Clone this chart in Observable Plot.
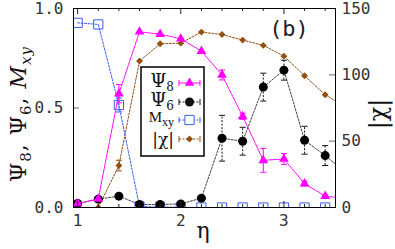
<!DOCTYPE html>
<html><head><meta charset="utf-8">
<script src="https://cdn.jsdelivr.net/npm/d3@7"></script>
<script src="https://cdn.jsdelivr.net/npm/@observablehq/plot@0.6"></script>
<style>body{margin:0;background:#fff} #chart{width:395px;height:249px}</style>
</head><body><div id="chart"></div>
<script>
const eta     = [1.0, 1.2, 1.4, 1.6, 1.8, 2.0, 2.2, 2.4, 2.6, 2.8, 3.0, 3.2, 3.4, 3.6];
const psi8    = [0.02, 0.043, 0.572, 0.883, 0.871, 0.848, 0.786, 0.666, 0.458, 0.237, 0.244, 0.12, 0.057, 0.045];
const psi8Err = [0, 0, 0.046, 0, 0, 0, 0, 0.025, 0.015, 0.06, 0.027, 0.012, 0.006, 0];
const psi6    = [0.02, 0.042, 0.057, 0.015, 0.015, 0.018, 0.047, 0.348, 0.333, 0.605, 0.69, 0.338, 0.261, 0.175];
const psi6Err = [0, 0, 0, 0, 0, 0, 0, 0.115, 0.07, 0.07, 0.05, 0.07, 0.05, 0];
const mxy     = [0.928, 0.92, 0.515, 0.005, 0.002, 0.001, 0, 0, 0, 0, 0, 0, 0, 0];
const mxyErr  = [0, 0, 0.035, 0, 0, 0, 0, 0, 0, 0, 0, 0, 0, 0];
const chi     = [0, 0, 31.6, 110.4, 123.4, 123.9, 132.2, 130.4, 126.2, 122.2, 114.1, 99.3, 85, 75.6];
const chiErr  = [0, 0, 4, 0, 0, 0, 0, 0, 0, 0, 0, 0, 0, 0];

const leftTicks  = [0, 0.5, 1];
const rightTicks = [0, 50, 100, 150];
const chiMax = 150;
const xMajor = [1, 2, 3];
const xMinor = [1.2, 1.4, 1.6, 1.8, 2.2, 2.4, 2.6, 2.8, 3.2, 3.4];

const C8 = "#ff00ff", C6 = "#111111", CM = "#3c5cf0", CX = "#93500f";

const rows = eta.map((x, i) => ({x, psi8: psi8[i], e8: psi8Err[i], psi6: psi6[i], e6: psi6Err[i],
  mxy: mxy[i], eM: mxyErr[i], chi: chi[i] / chiMax, eX: chiErr[i] / chiMax}));

const cap = {draw(ctx, size) { const r = Math.sqrt(size / Math.PI); ctx.moveTo(-r, 0); ctx.lineTo(r, 0); }};

function errMarks(key, ekey, color, dash) {
  const d = rows.filter(r => r[ekey] > 0);
  return [
    Plot.ruleX(d, {x: "x", y1: r => r[key] - r[ekey], y2: r => r[key] + r[ekey], stroke: color, strokeWidth: 1, strokeDasharray: dash, clip: true}),
    Plot.dot(d, {x: "x", y: r => r[key] - r[ekey], symbol: cap, r: 3, stroke: color, strokeWidth: 1, clip: true}),
    Plot.dot(d, {x: "x", y: r => r[key] + r[ekey], symbol: cap, r: 3, stroke: color, strokeWidth: 1, clip: true})
  ];
}

const W = 395, H = 249, ML = 73, MR = 60, MT = 8, MB = 42;
const PW = W - ML - MR, PH = H - MT - MB;

const plot = Plot.plot({
  width: W, height: H,
  marginLeft: ML, marginRight: MR, marginTop: MT, marginBottom: MB,
  x: {domain: [0.96, 3.5]},
  y: {domain: [0, 1]},
  style: {fontFamily: "DejaVu Sans Mono", fontSize: "16px", color: "#333", background: "white", overflow: "visible"},
  marks: [
    // chi
    Plot.line(rows, {x: "x", y: "chi", stroke: CX, strokeWidth: 1, strokeDasharray: "2,1.5", clip: true}),
    ...errMarks("chi", "eX", CX, "2,1"),
    Plot.dot(rows, {x: "x", y: "chi", symbol: "diamond2", r: 3.1, fill: CX, clip: true}),
    // mxy
    Plot.line(rows, {x: "x", y: "mxy", stroke: CM, strokeWidth: 1, strokeDasharray: "2,1.5", clip: true}),
    ...errMarks("mxy", "eM", CM, "2,1"),
    Plot.dot(rows, {x: "x", y: "mxy", symbol: "square", r: 5.2, stroke: CM, strokeWidth: 1, fill: "none", clip: true}),
    // psi6
    Plot.line(rows, {x: "x", y: "psi6", stroke: C6, strokeWidth: 0.8, strokeDasharray: "2,1.5", clip: true}),
    ...errMarks("psi6", "e6", C6, "2,1.5"),
    Plot.dot(rows, {x: "x", y: "psi6", symbol: "circle", r: 4.5, fill: "#000", clip: true}),
    // psi8
    Plot.line(rows, {x: "x", y: "psi8", stroke: C8, strokeWidth: 1, strokeDasharray: "3,1", clip: true}),
    ...errMarks("psi8", "e8", C8, null),
    Plot.dot(rows, {x: "x", y: "psi8", symbol: "triangle", r: 3.6, fill: C8, clip: true}),
    // ticks (inward)
    Plot.ruleX(xMajor, {x: d => d, insetBottom: PH - 6, stroke: "#222"}),
    Plot.ruleX(xMinor, {x: d => d, insetBottom: PH - 3, stroke: "#222"}),
    Plot.ruleX(xMajor, {x: d => d, insetTop: PH - 6, stroke: "#222"}),
    Plot.ruleX(xMinor, {x: d => d, insetTop: PH - 3, stroke: "#222"}),
    Plot.ruleY(leftTicks, {y: d => d, insetRight: PW - 6, stroke: "#666"}),
    Plot.ruleY(rightTicks, {y: d => d / chiMax, insetLeft: PW - 6, stroke: "#666"}),
    Plot.frame({stroke: "black", strokeWidth: 1}),
    Plot.axisX(xMajor, {anchor: "bottom", tickSize: 0, tickPadding: 7, label: null, tickFormat: d => String(d)}),
    Plot.axisY(leftTicks, {anchor: "left", tickSize: 0, tickPadding: 10, label: null, tickFormat: d => d.toFixed(1)}),
    Plot.axisY(rightTicks.map(v => v / chiMax), {anchor: "right", tickSize: 0, tickPadding: 6, label: null, tickFormat: d => String(Math.round(d * chiMax))})
  ]
});

const svg = d3.select(plot);
const serif = "DejaVu Serif";

// left y label
const yl = svg.append("text").attr("transform", "translate(26,114.5) rotate(-90)")
  .attr("text-anchor", "middle").attr("font-family", serif).attr("font-size", 22).attr("fill", "#111")
  .attr("textLength", 135).attr("lengthAdjust", "spacing");
yl.append("tspan").text("Ψ");
yl.append("tspan").attr("dy", 5).attr("font-size", 15).text("8");
yl.append("tspan").attr("dy", -5).text(", Ψ");
yl.append("tspan").attr("dy", 5).attr("font-size", 15).text("6");
yl.append("tspan").attr("dy", -5).text(", ");
yl.append("tspan").attr("font-style", "italic").text("M");
yl.append("tspan").attr("dy", 5).attr("font-size", 15).attr("font-style", "italic").text("xy");

// right label
svg.append("text").attr("transform", "translate(386,114) rotate(-90)")
  .attr("text-anchor", "middle").attr("font-family", serif).attr("font-size", 24).attr("fill", "#111").text("|χ|");

// x label
svg.append("text").attr("x", 203).attr("y", 238).attr("text-anchor", "middle")
  .attr("font-family", serif).attr("font-size", 22).attr("fill", "#111").text("η");

// panel tag
svg.append("text").attr("x", 289).attr("y", 36)
  .attr("font-family", "DejaVu Sans Mono").attr("font-size", 22).attr("fill", "#222").text("(b)");

// legend
const lg = svg.append("g");
lg.append("rect").attr("x", 141).attr("y", 67).attr("width", 63).attr("height", 89)
  .attr("fill", "white").attr("stroke", "black").attr("stroke-width", 1.5);
const items = [
  {main: "Ψ", sub: "8", y: 83, color: C8, sym: "triangle", dash: null},
  {main: "Ψ", sub: "6", y: 102, color: C6, sym: "circle", dash: "2,1.5"},
  {main: "M", sub: "xy", y: 120, color: CM, sym: "square", dash: "2,1.5"},
  {main: "|χ|", sub: "", y: 139, color: CX, sym: "diamond", dash: "2,1.5"}
];
items.forEach(it => {
  const isM = it.main === "M";
  const isChi = it.main === "|χ|";
  const t = lg.append("text").attr("x", 174).attr("y", it.y + (isM ? 2 : isChi ? 6 : 4)).attr("text-anchor", "end")
    .attr("font-family", isM ? "Liberation Serif" : serif).attr("font-size", isM ? 15 : isChi ? 17 : 18).attr("fill", "#111");
  t.append("tspan").text(it.main);
  if (it.sub) t.append("tspan").attr("dy", 4).attr("font-size", isM ? 12 : 12).text(it.sub);
  lg.append("line").attr("x1", 179).attr("x2", 200).attr("y1", it.y).attr("y2", it.y)
    .attr("stroke", it.color).attr("stroke-width", 1).attr("stroke-dasharray", it.dash);
  [179, 200].forEach(xx => lg.append("line").attr("x1", xx).attr("x2", xx).attr("y1", it.y - 3).attr("y2", it.y + 3)
    .attr("stroke", it.color).attr("stroke-width", 1));
  const sz = {triangle: 40, circle: 64, square: 85, diamond: 30}[it.sym];
  const sh = {triangle: d3.symbolTriangle, circle: d3.symbolCircle, square: d3.symbolSquare, diamond: d3.symbolDiamond2}[it.sym];
  lg.append("path").attr("transform", `translate(189.5,${it.y})`).attr("d", d3.symbol(sh, sz)())
    .attr("fill", it.sym === "square" ? "white" : it.color).attr("stroke", it.sym === "square" ? it.color : "none");
});

document.getElementById("chart").appendChild(plot);
</script>
</body></html>
